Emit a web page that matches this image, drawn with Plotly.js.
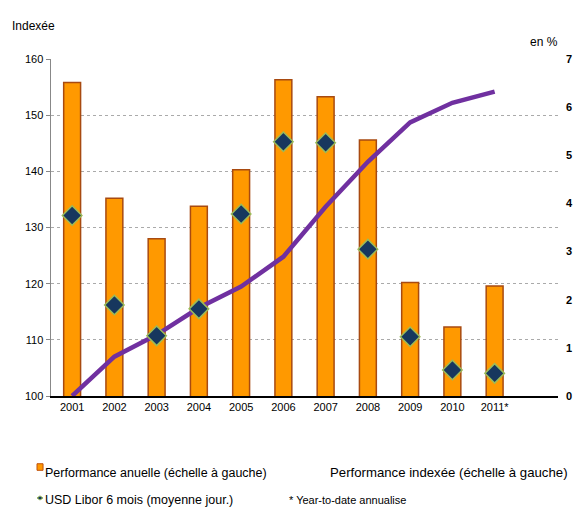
<!DOCTYPE html>
<html>
<head>
<meta charset="utf-8">
<script src="https://cdn.plot.ly/plotly-3.0.1.min.js"></script>
<style>html,body{margin:0;padding:0;background:#fff;}#chart{width:577px;height:507px;}</style>
</head>
<body>
<div id="chart"></div>
<script>
const years = ["2001","2002","2003","2004","2005","2006","2007","2008","2009","2010","2011*"];
const perfAnnuelle = [155.8,135.2,128.0,133.8,140.3,156.3,153.3,145.6,120.2,112.3,119.6];
const perfIndexee = [100.0,107.0,110.9,115.7,119.5,124.8,133.7,141.7,148.7,152.2,154.2];
const libor = [3.75,1.89,1.25,1.81,3.78,5.28,5.26,3.05,1.23,0.54,0.47];
const leftTicks = [100,110,120,130,140,150,160];
const rightTicks = [0,1,2,3,4,5,6,7];

const font = "Liberation Sans, Arial, sans-serif";

const traces = [
  {
    type: "bar", x: years, y: perfAnnuelle, base: 0, width: 0.4,
    name: "Performance anuelle (échelle à gauche)",
    marker: {color: "#FF9900", line: {color: "#A84A10", width: 1.5}},
    yaxis: "y", hoverinfo: "x+y"
  },
  {
    type: "scatter", mode: "lines", x: years, y: perfIndexee,
    name: "Performance indexée (échelle à gauche)",
    line: {color: "#7030A0", width: 4.5},
    yaxis: "y"
  },
  {
    type: "scatter", mode: "markers", x: years, y: libor,
    name: "USD Libor 6 mois (moyenne jour.)",
    marker: {symbol: "diamond", size: 15, color: "#17375E", line: {color: "#9BBB59", width: 1.5}},
    yaxis: "y2"
  }
];

const layout = {
  width: 577, height: 507,
  margin: {l: 51, r: 19, t: 59, b: 111},
  paper_bgcolor: "#fff", plot_bgcolor: "#fff",
  showlegend: false,
  font: {family: font, size: 11, color: "#000"},
  xaxis: {
    type: "category", categoryorder: "array", categoryarray: years,
    range: [-0.5, 11.5],
    showline: true, linecolor: "#000", linewidth: 2,
    showgrid: false, ticks: "", zeroline: false,
    tickfont: {family: font, size: 11, color: "#000"}
  },
  yaxis: {
    range: [100, 160], tickvals: leftTicks,
    showline: true, linecolor: "#888", linewidth: 1.5,
    ticks: "outside", ticklen: 4, tickcolor: "#888",
    showgrid: true, gridcolor: "#aaa", griddash: "dot", gridwidth: 1,
    zeroline: false,
    tickfont: {family: font, size: 11, color: "#000"}
  },
  yaxis2: {
    range: [0, 7], tickvals: rightTicks,
    overlaying: "y", side: "right",
    showline: false, showgrid: false, zeroline: false, ticks: "",
    ticklabelstandoff: 7,
    tickfont: {family: font, size: 11, color: "#000", weight: "bold"}
  },
  annotations: [
    {xref: "paper", yref: "paper", x: -0.08, y: 1.0, yshift: 33, xanchor: "left", yanchor: "middle",
     text: "Indexée", showarrow: false, font: {family: font, size: 12, color: "#000"}},
    {xref: "paper", yref: "paper", x: 1.0, y: 1.0, yshift: 17, xanchor: "right", yanchor: "middle", xshift: 2,
     text: "en %", showarrow: false, font: {family: font, size: 12, color: "#000"}},
    {xref: "paper", yref: "paper", x: -0.0157, y: 0, yshift: -77, xanchor: "left", yanchor: "middle",
     text: "Performance anuelle (échelle à gauche)", showarrow: false, font: {family: font, size: 12.5, color: "#000"}},
    {xref: "paper", yref: "paper", x: -0.0157, y: 0, yshift: -104, xanchor: "left", yanchor: "middle",
     text: "USD Libor 6 mois (moyenne jour.)", showarrow: false, font: {family: font, size: 12.5, color: "#000"}},
    {xref: "paper", yref: "paper", x: 0.547, y: 0, yshift: -76, xanchor: "left", yanchor: "middle",
     text: "Performance indexée (échelle à gauche)", showarrow: false, font: {family: font, size: 13.2, color: "#000"}},
    {xref: "paper", yref: "paper", x: 0.465, y: 0, yshift: -104, xanchor: "left", yanchor: "middle",
     text: "* Year-to-date annualise", showarrow: false, font: {family: font, size: 11, color: "#000"}}
  ],
  shapes: [
    {type: "rect", xref: "paper", yref: "paper", x0: -0.0276, x1: -0.0157, y0: -0.2205, y1: -0.201,
     fillcolor: "#FF9900", line: {color: "#C0500A", width: 1}},
    {type: "path", xref: "paper", yref: "paper",
     path: "M -0.0217 -0.2964 L -0.0157 -0.3026 L -0.0217 -0.3087 L -0.0276 -0.3026 Z",
     fillcolor: "#17375E", line: {color: "#9BBB59", width: 1}}
  ]
};

Plotly.newPlot("chart", traces, layout, {displayModeBar: false, staticPlot: true});
</script>
</body>
</html>
